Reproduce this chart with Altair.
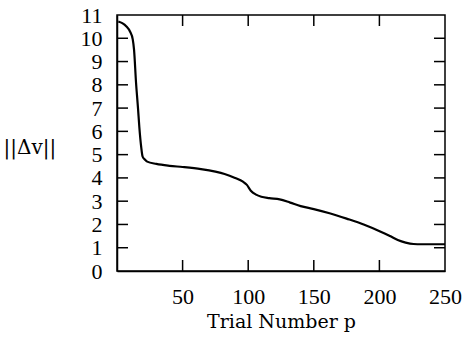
import altair as alt
import pandas as pd

# Curve
trial = [1, 4, 7, 10, 12, 13, 14.5, 16, 17, 18.5, 19.5, 21, 23, 30, 40, 50, 64,
         75, 82, 90, 96, 99, 102, 106, 110, 116, 124, 132, 140, 150, 162, 175,
         188, 201, 208, 214, 220, 226, 232, 240, 250]
dv = [10.72, 10.65, 10.52, 10.28, 9.95, 9.5, 8.1, 7.0, 6.2, 5.3, 4.92, 4.8, 4.7,
      4.6, 4.52, 4.47, 4.38, 4.27, 4.17, 4.0, 3.84, 3.7, 3.45, 3.28, 3.19, 3.13,
      3.08, 2.94, 2.79, 2.66, 2.48, 2.25, 2.0, 1.69, 1.5, 1.33, 1.22, 1.16, 1.15,
      1.15, 1.15]

x_ticks = [50, 100, 150, 200]
x_labels = [50, 100, 150, 200, 250]
y_ticks = [1, 2, 3, 4, 5, 6, 7, 8, 9, 10]
y_labels = [0, 1, 2, 3, 4, 5, 6, 7, 8, 9, 10, 11]

W, H = 328, 256
FONT = "Liberation Serif"
TFONT = "DejaVu Serif"
TL = 11

df = pd.DataFrame({"p": trial, "dv": dv})
xs = alt.Scale(domain=[0, 250], nice=False, zero=False)
ys = alt.Scale(domain=[0, 11], nice=False)

line = alt.Chart(df).mark_line(color="black", strokeWidth=2.2, interpolate="monotone").encode(
    x=alt.X("p:Q", scale=xs,
            axis=alt.Axis(values=x_labels, ticks=False, labelPadding=15, labelFontSize=22,
                          labelFont=FONT, labelColor="black", grid=False, domainColor="black",
                          domainWidth=1.5, title="Trial Number p", titleFont=TFONT,
                          titleFontSize=19, titleFontWeight="normal", titleColor="black",
                          titleBaseline="alphabetic", titleY=56,
                          labelFlush=False, labelOverlap=False)),
    y=alt.Y("dv:Q", scale=ys,
            axis=alt.Axis(values=y_labels, ticks=False, labelPadding=15, labelFontSize=22,
                          labelFont=FONT, labelColor="black", grid=False, domainColor="black",
                          domainWidth=1.5, title="||Δv||", titleFont=TFONT, titleFontSize=20,
                          titleFontWeight="normal", titleColor="black", titleAngle=0,
                          titleAlign="left", titleBaseline="alphabetic", titleX=-114, titleY=138,
                          labelFlush=False, labelOverlap=False)),
)

ydf = pd.DataFrame({"t": y_ticks})
xdf = pd.DataFrame({"t": x_ticks})

left_ticks = alt.Chart(ydf).mark_rule(color="black", strokeWidth=1.5).encode(
    y=alt.Y("t:Q", scale=ys, axis=None), x=alt.value(0), x2=alt.value(TL))
right_ticks = alt.Chart(ydf).mark_rule(color="black", strokeWidth=1.5).encode(
    y=alt.Y("t:Q", scale=ys, axis=None), x=alt.value(W - TL), x2=alt.value(W))
bottom_ticks = alt.Chart(xdf).mark_rule(color="black", strokeWidth=1.5).encode(
    x=alt.X("t:Q", scale=xs, axis=None), y=alt.value(H - TL), y2=alt.value(H))
top_ticks = alt.Chart(xdf).mark_rule(color="black", strokeWidth=1.5).encode(
    x=alt.X("t:Q", scale=xs, axis=None), y=alt.value(0), y2=alt.value(TL))

chart = alt.layer(line, left_ticks, right_ticks, bottom_ticks, top_ticks).resolve_axis(
    x="independent", y="independent"
).properties(
    width=W, height=H,
    autosize=alt.AutoSizeParams(type="none"),
    padding={"left": 117, "top": 15, "right": 17, "bottom": 66},
    background="white",
).configure_view(stroke="black", strokeWidth=1.5)

chart.save("out.html", embed_options={"renderer": "svg", "actions": False})
